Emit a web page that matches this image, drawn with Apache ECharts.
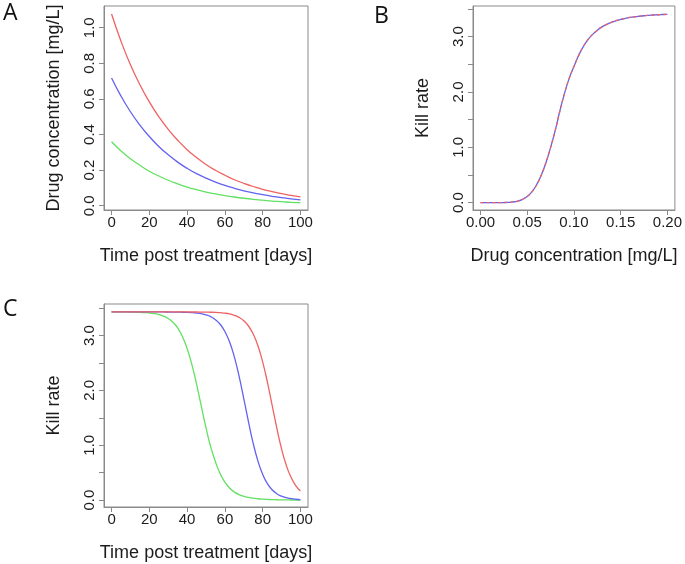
<!DOCTYPE html>
<html>
<head>
<meta charset="utf-8">
<script src="https://cdn.jsdelivr.net/npm/echarts@6/dist/echarts.min.js"></script>
<style>
html,body{margin:0;padding:0;background:#fff;}
#chart{width:685px;height:564px;}
</style>
</head>
<body>
<div id="chart"></div>
<script>
// ---- Panel A: drug concentration vs time ----
var daysA = [0,5,10,15,20,25,30,35,40,45,50,55,60,65,70,75,80,85,90,95,100];
var concRed   = [1.077,0.924,0.792,0.680,0.583,0.500,0.429,0.368,0.315,0.271,0.232,0.199,0.171,0.146,0.126,0.108,0.092,0.079,0.068,0.058,0.050];
var concBlue  = [0.718,0.616,0.528,0.453,0.389,0.333,0.286,0.245,0.210,0.180,0.155,0.133,0.114,0.098,0.084,0.072,0.062,0.053,0.045,0.039,0.033];
var concGreen = [0.359,0.308,0.264,0.227,0.194,0.167,0.143,0.123,0.105,0.090,0.077,0.066,0.057,0.049,0.042,0.036,0.031,0.026,0.023,0.019,0.017];

// ---- Panel B: kill rate vs drug concentration ----
var concB = [0,0.005,0.01,0.015,0.02,0.025,0.03,0.035,0.04,0.045,0.05,0.055,0.06,0.065,0.07,0.075,0.08,0.085,0.09,0.095,0.1,
             0.105,0.11,0.115,0.12,0.125,0.13,0.135,0.14,0.145,0.15,0.155,0.16,0.165,0.17,0.175,0.18,0.185,0.19,0.195,0.2];
var killB = [0,0,0,0,0.001,0.002,0.005,0.013,0.029,0.060,0.112,0.195,0.320,0.495,0.720,0.995,1.305,1.660,1.980,2.250,2.460,
             2.660,2.820,2.945,3.040,3.115,3.175,3.220,3.258,3.287,3.310,3.330,3.346,3.358,3.368,3.377,3.384,3.390,3.395,3.399,3.402];

// ---- Panel C: kill rate vs time ----
var daysC = [0,2.5,5,7.5,10,12.5,15,17.5,20,22.5,25,27.5,30,32.5,35,37.5,40,42.5,45,47.5,50,
             52.5,55,57.5,60,62.5,65,67.5,70,72.5,75,77.5,80,82.5,85,87.5,90,92.5,95,97.5,100];
var killGreen = [3.430,3.430,3.430,3.430,3.427,3.426,3.423,3.418,3.412,3.401,3.383,3.355,3.311,3.243,3.138,2.984,2.765,2.474,2.115,1.715,1.320,
                 0.970,0.700,0.480,0.330,0.220,0.150,0.100,0.070,0.050,0.035,0.025,0.018,0.013,0.009,0.007,0.005,0.004,0.003,0.002,0.001];
var killBlue  = [3.430,3.430,3.430,3.430,3.430,3.430,3.430,3.430,3.430,3.430,3.430,3.430,3.429,3.428,3.427,3.425,3.423,3.418,3.410,3.398,3.377,
                 3.344,3.290,3.206,3.075,2.882,2.611,2.261,1.852,1.426,1.034,0.712,0.470,0.301,0.189,0.117,0.072,0.044,0.027,0.016,0.010];
var killRed   = [3.430,3.430,3.430,3.430,3.430,3.430,3.430,3.430,3.430,3.430,3.430,3.430,3.430,3.430,3.430,3.430,3.430,3.429,3.429,3.428,3.427,
                 3.425,3.422,3.416,3.408,3.393,3.369,3.331,3.270,3.174,3.028,2.814,2.521,2.151,1.732,1.311,0.936,0.636,0.416,0.265,0.166];

// ---- tick positions / labels ----
var ticksDays = [0,20,40,60,80,100];
var ticksConcA = [0,0.2,0.4,0.6,0.8,1.0];
var ticksConcB = [0,0.05,0.1,0.15,0.2];
var ticksKillMinor = [0,0.5,1,1.5,2,2.5,3,3.5];
var ticksKillLabel = [0,1,2,3];

function pairs(xs, ys){ return xs.map(function(x,i){ return [x, ys[i]]; }); }

var TXT = '#1c1c1c';
var FRAME = '#8a8a8a';
var FONT = '"Liberation Sans", Arial, sans-serif';
var RED = '#f06262', BLUE = '#6262f0', GREEN = '#62e062';

function xAxis(gi, min, max, ticks, fmt, name){
  return {
    type:'value', gridIndex:gi, min:min, max:max, position:'bottom',
    axisLine:{show:true, onZero:false, lineStyle:{color:FRAME, width:1}},
    splitLine:{show:false},
    axisTick:{show:true, inside:false, length:5, customValues:ticks, lineStyle:{color:FRAME, width:1}},
    axisLabel:{show:true, customValues:ticks, formatter:fmt, color:TXT, fontFamily:FONT, fontSize:15, margin:5},
    name:name, nameLocation:'middle', nameGap:37,
    nameTextStyle:{color:TXT, fontFamily:FONT, fontSize:18}
  };
}
function yAxis(gi, min, max, ticks, labels, fmt, name){
  return {
    type:'value', gridIndex:gi, min:min, max:max, position:'left',
    axisLine:{show:true, onZero:false, lineStyle:{color:FRAME, width:1}},
    splitLine:{show:false},
    axisTick:{show:true, inside:false, length:5, customValues:ticks, lineStyle:{color:FRAME, width:1}},
    axisLabel:{show:true, customValues:labels, formatter:fmt, rotate:90, color:TXT, fontFamily:FONT, fontSize:15, margin:7},
    name:name, nameLocation:'middle', nameGap:41, nameRotate:90,
    nameTextStyle:{color:TXT, fontFamily:FONT, fontSize:18}
  };
}
function line(xi, yi, data, color, extra){
  var s = {
    type:'line', xAxisIndex:xi, yAxisIndex:yi, data:data,
    showSymbol:false, symbol:'none', smooth:0.5,
    lineStyle:{color:color, width:1.3}, itemStyle:{color:color},
    silent:true, animation:false, z:2
  };
  if (extra) { for (var k in extra) s[k] = extra[k]; }
  return s;
}

var chart = echarts.init(document.getElementById('chart'), null, {renderer:'canvas'});
chart.setOption({
  backgroundColor:'#ffffff',
  animation:false,
  grid:[
    {left:104, top:6, width:204, height:204, show:true, borderColor:FRAME, borderWidth:1, backgroundColor:'transparent'},
    {left:473, top:6, width:204, height:204, show:true, borderColor:FRAME, borderWidth:1, backgroundColor:'transparent'},
    {left:104, top:304, width:204, height:203, show:true, borderColor:FRAME, borderWidth:1, backgroundColor:'transparent'}
  ],
  xAxis:[
    xAxis(0, -4, 104, ticksDays, function(v){return String(v);}, 'Time post treatment [days]'),
    xAxis(1, -0.008, 0.208, ticksConcB, function(v){return v.toFixed(2);}, 'Drug concentration [mg/L]'),
    xAxis(2, -4, 104, ticksDays, function(v){return String(v);}, 'Time post treatment [days]')
  ],
  yAxis:[
    yAxis(0, -0.024, 1.122, ticksConcA, ticksConcA, function(v){return v.toFixed(1);}, 'Drug concentration [mg/L]'),
    yAxis(1, -0.133, 3.553, ticksKillMinor, ticksKillLabel, function(v){return v.toFixed(1);}, 'Kill rate'),
    yAxis(2, -0.125, 3.575, ticksKillMinor, ticksKillLabel, function(v){return v.toFixed(1);}, 'Kill rate')
  ],
  graphic:[
    {type:'text', left:3, top:2, style:{text:'A', font:'23px "Open Sans", sans-serif', fill:'#111'}},
    {type:'text', left:374, top:5, style:{text:'B', font:'23px "Open Sans", sans-serif', fill:'#111'}},
    {type:'text', left:3, top:298, style:{text:'C', font:'23px "Open Sans", sans-serif', fill:'#111'}}
  ],
  series:[
    line(0,0,pairs(daysA, concGreen), GREEN),
    line(0,0,pairs(daysA, concBlue), BLUE),
    line(0,0,pairs(daysA, concRed), RED),
    line(1,1,pairs(concB, killB), BLUE),
    line(1,1,pairs(concB, killB), RED, {lineStyle:{color:RED, width:1.3, type:[3,3]}, z:3}),
    line(2,2,pairs(daysC, killGreen), GREEN),
    line(2,2,pairs(daysC, killBlue), BLUE),
    line(2,2,pairs(daysC, killRed), RED)
  ]
});
</script>
</body>
</html>
